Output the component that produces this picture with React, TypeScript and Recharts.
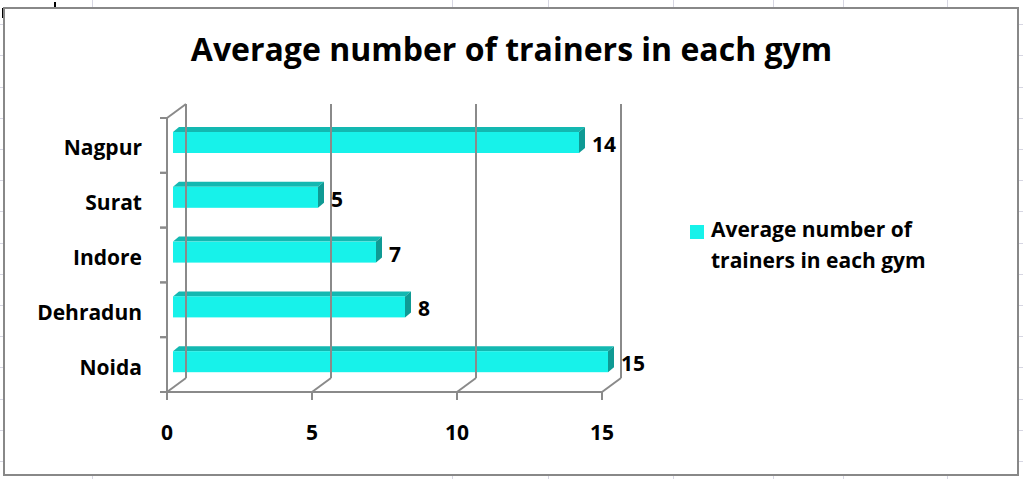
import React from "react";
import { BarChart, Bar, XAxis, YAxis, Legend, LabelList } from "recharts";

const categories = ["Nagpur", "Surat", "Indore", "Dehradun", "Noida"];
const trainers = [14, 5, 7, 8, 15];
const xTicks = [0, 5, 10, 15];
const seriesName = "Average number of trainers in each gym";
const legendLines = ["Average number of", "trainers in each gym"];

const data = categories.map((city, i) => ({ city, value: trainers[i] }));

const W = 1023;
const H = 479;
const PLOT_TOP = 118;
const PLOT_BOTTOM = 392;
const PLOT_LEFT = 167;
const DEPTH_X = 19;
const DEPTH_Y = 14;
const BAR_DX = 6;
const BAR_DY = 5;

const FONT = "'Open Sans', Lato, sans-serif";
const LINE = "#8a8a8a";
const FRONT = "#17f2ea";
const TOP = "#13b8b1";
const SIDE = "#0f9a94";

function Bar3D(props: any) {
  const { x, y, width, height } = props;
  const fx = x + BAR_DX;
  const fy = y - 3;
  return (
    <g>
      <polygon
        points={`${fx},${fy} ${fx + BAR_DX},${fy - BAR_DY} ${fx + width + BAR_DX},${fy - BAR_DY} ${fx + width},${fy}`}
        fill={TOP}
      />
      <polygon
        points={`${fx + width},${fy} ${fx + width + BAR_DX},${fy - BAR_DY} ${fx + width + BAR_DX},${fy - BAR_DY + height} ${fx + width},${fy + height}`}
        fill={SIDE}
      />
      <rect x={fx} y={fy} width={width} height={height} fill={FRONT} />
    </g>
  );
}

function ValueLabel(props: any) {
  const { x, y, width, height, value } = props;
  return (
    <text
      x={x + width + BAR_DX + 13}
      y={y + height / 2 + 6.5}
      fontFamily={FONT}
      fontWeight={700}
      fontSize={21}
      fill="#000"
    >
      {value}
    </text>
  );
}

function XTick(props: any) {
  const { x, payload } = props;
  return (
    <g>
      <line x1={x} y1={PLOT_BOTTOM} x2={x} y2={PLOT_BOTTOM + 8} stroke={LINE} strokeWidth={2} />
      <line x1={x} y1={PLOT_BOTTOM} x2={x + DEPTH_X} y2={PLOT_BOTTOM - DEPTH_Y} stroke={LINE} strokeWidth={2} />
      <line
        x1={x + DEPTH_X}
        y1={PLOT_BOTTOM - DEPTH_Y}
        x2={x + DEPTH_X}
        y2={PLOT_TOP - DEPTH_Y}
        stroke={LINE}
        strokeWidth={2}
      />
      <text x={x} y={440} textAnchor="middle" fontFamily={FONT} fontWeight={700} fontSize={21} fill="#000">
        {payload.value}
      </text>
    </g>
  );
}

function YTick(props: any) {
  const { y, payload, index } = props;
  const band = (PLOT_BOTTOM - PLOT_TOP) / categories.length;
  return (
    <g>
      <line x1={PLOT_LEFT - 7} y1={y - band / 2} x2={PLOT_LEFT} y2={y - band / 2} stroke={LINE} strokeWidth={2} />
      <line x1={PLOT_LEFT - 7} y1={y + band / 2} x2={PLOT_LEFT} y2={y + band / 2} stroke={LINE} strokeWidth={2} />
      {index === 0 && (
        <line
          x1={PLOT_LEFT}
          y1={PLOT_TOP}
          x2={PLOT_LEFT + DEPTH_X}
          y2={PLOT_TOP - DEPTH_Y}
          stroke={LINE}
          strokeWidth={2}
        />
      )}
      <text x={142} y={y + 10} textAnchor="end" fontFamily={FONT} fontWeight={700} fontSize={21} fill="#000">
        {payload.value}
      </text>
    </g>
  );
}

function LegendBox() {
  return (
    <div style={{ position: "relative", fontFamily: FONT, fontWeight: 700, fontSize: 21, lineHeight: "31px", color: "#000" }}>
      <div style={{ position: "absolute", left: 0, top: 11, width: 14, height: 14, background: FRONT }} />
      <div style={{ marginLeft: 21 }}>
        {legendLines.map((l) => (
          <div key={l} style={{ whiteSpace: "nowrap" }}>{l}</div>
        ))}
      </div>
    </div>
  );
}

const colLines = [92, 452, 548, 673, 773, 843, 947];

export default function App() {
  return (
    <div
      style={{
        position: "fixed",
        left: 0,
        top: 0,
        width: W,
        height: H,
        overflow: "hidden",
        background: "#fff",
        backgroundImage:
          "repeating-linear-gradient(to bottom, transparent 0px, transparent 30.2px, #d6d6e2 30.2px, #d6d6e2 31.2px)",
        backgroundPosition: "0px -6px",
      }}
    >
      {colLines.map((x) => (
        <div key={x} style={{ position: "absolute", left: x, top: 0, width: 1, height: H, background: "#d6d6e2" }} />
      ))}
      <div style={{ position: "absolute", left: 54, top: 2, width: 2, height: 5, background: "#000" }} />
      <div style={{ position: "absolute", left: 2, top: 8, width: 2, height: 10, background: "#000" }} />
      <div
        style={{
          position: "absolute",
          left: 3,
          top: 7,
          width: 1012,
          height: 465,
          border: "2px solid #888",
          background: "#fff",
        }}
      />
      <div
        style={{
          position: "absolute",
          left: 0,
          top: 27,
          width: W,
          textAlign: "center",
          fontFamily: FONT,
          fontWeight: 700,
          fontSize: 32,
          lineHeight: "44px",
          color: "#000",
        }}
      >
        {seriesName}
      </div>
      <div style={{ position: "absolute", left: 0, top: 0 }}>
        <BarChart
          width={W}
          height={H}
          data={data}
          layout="vertical"
          margin={{ top: PLOT_TOP, right: W - 602, bottom: H - PLOT_BOTTOM - 50, left: PLOT_LEFT - 140 }}
        >
          <XAxis
            type="number"
            domain={[0, 15]}
            ticks={xTicks}
            height={50}
            tick={<XTick />}
            tickLine={false}
            axisLine={{ stroke: LINE, strokeWidth: 2 }}
          />
          <YAxis
            type="category"
            dataKey="city"
            width={140}
            tick={<YTick />}
            tickLine={false}
            axisLine={{ stroke: LINE, strokeWidth: 2 }}
          />
          <Legend
            layout="horizontal"
            verticalAlign="middle"
            align="center"
            wrapperStyle={{ left: 690, top: 214, width: 300 }}
            content={() => <LegendBox />}
          />
          <Bar dataKey="value" name={seriesName} barSize={21} shape={<Bar3D />} isAnimationActive={false}>
            <LabelList dataKey="value" content={<ValueLabel />} />
          </Bar>
        </BarChart>
      </div>
    </div>
  );
}
